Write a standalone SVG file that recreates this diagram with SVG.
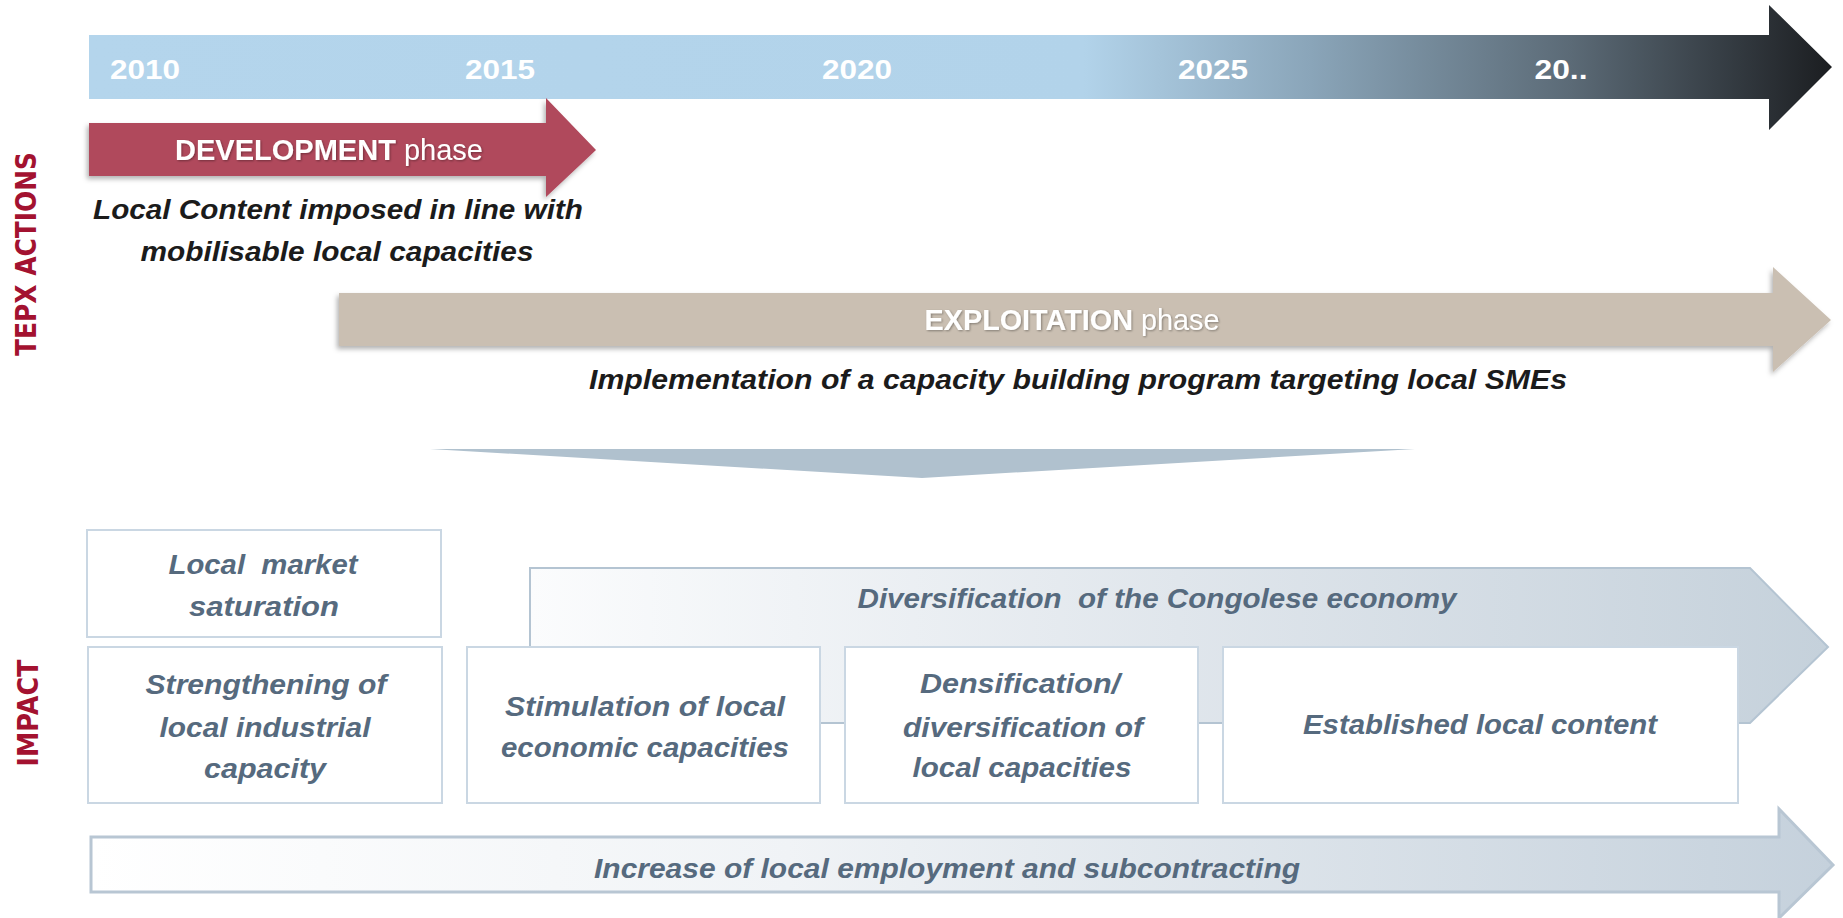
<svg xmlns="http://www.w3.org/2000/svg" width="1843" height="918" viewBox="0 0 1843 918">
<style>
.yr{font-family:"Liberation Sans",Arial,sans-serif;font-weight:bold;font-size:28px;fill:#ffffff;text-anchor:middle}
.ph{font-family:"Liberation Sans",Arial,sans-serif;font-size:29px;fill:#ffffff;text-anchor:middle}
.blk{font-family:"Liberation Sans",Arial,sans-serif;font-weight:bold;font-style:italic;font-size:28px;fill:#1b1b1b;text-anchor:middle}
.sl{font-family:"Liberation Sans",Arial,sans-serif;font-weight:bold;font-style:italic;font-size:28px;fill:#566a7e;text-anchor:middle;white-space:pre}
.side{font-family:"DejaVu Sans",Verdana,sans-serif;font-weight:bold;font-size:28px;fill:#a31230;text-anchor:middle}
.box{fill:#ffffff;stroke:#cad7e3;stroke-width:2}
</style>
<defs>
<linearGradient id="gTime" gradientUnits="userSpaceOnUse" x1="89" y1="0" x2="1834" y2="0">
<stop offset="0" stop-color="#b4d5ec"/>
<stop offset="0.57" stop-color="#b2d3ea"/>
<stop offset="0.70" stop-color="#8aa5b9"/>
<stop offset="0.85" stop-color="#5b6a76"/>
<stop offset="1" stop-color="#1b1d20"/>
</linearGradient>
<linearGradient id="gDiv" gradientUnits="userSpaceOnUse" x1="530" y1="0" x2="1828" y2="0">
<stop offset="0" stop-color="#fbfcfd"/>
<stop offset="0.5" stop-color="#e0e6ec"/>
<stop offset="1" stop-color="#c5d1db"/>
</linearGradient>
<linearGradient id="gInc" gradientUnits="userSpaceOnUse" x1="91" y1="0" x2="1833" y2="0">
<stop offset="0" stop-color="#ffffff"/>
<stop offset="0.4" stop-color="#f0f3f6"/>
<stop offset="1" stop-color="#c5d1dc"/>
</linearGradient>
<filter id="sh" x="-5%" y="-20%" width="110%" height="150%">
<feDropShadow dx="-2" dy="3" stdDeviation="2.5" flood-color="#000000" flood-opacity="0.3"/>
</filter>
<filter id="tsh" x="-5%" y="-20%" width="110%" height="150%">
<feDropShadow dx="1" dy="1" stdDeviation="1" flood-color="#000000" flood-opacity="0.35"/>
</filter>
</defs>

<g id="timeline">
<polygon points="89,35 1769,35 1769,5 1832,67 1769,130 1769,99 89,99" fill="url(#gTime)"/>
<text class="yr" x="145" y="79" textLength="70" lengthAdjust="spacingAndGlyphs">2010</text>
<text class="yr" x="500" y="79" textLength="70" lengthAdjust="spacingAndGlyphs">2015</text>
<text class="yr" x="857" y="79" textLength="70" lengthAdjust="spacingAndGlyphs">2020</text>
<text class="yr" x="1213" y="79" textLength="70" lengthAdjust="spacingAndGlyphs">2025</text>
<text class="yr" x="1561" y="79" textLength="53" lengthAdjust="spacingAndGlyphs">20..</text>
</g>

<g id="label-tepx">
<text class="side" transform="translate(36,254) rotate(-90)" x="0" y="0" textLength="204" lengthAdjust="spacingAndGlyphs">TEPX ACTIONS</text>
</g>
<g id="label-impact">
<text class="side" transform="translate(38,713) rotate(-90)" x="0" y="0" textLength="107" lengthAdjust="spacingAndGlyphs">IMPACT</text>
</g>

<g id="development">
<polygon points="89,123 546,123 546,98 596,150 546,197 546,176 89,176" fill="#b0495c" filter="url(#sh)"/>
<text class="ph" x="329" y="160" textLength="308" lengthAdjust="spacingAndGlyphs" filter="url(#tsh)"><tspan font-weight="bold">DEVELOPMENT</tspan> phase</text>
<text class="blk" x="338" y="219" textLength="490" lengthAdjust="spacingAndGlyphs">Local Content imposed in line with</text>
<text class="blk" x="337" y="261" textLength="393" lengthAdjust="spacingAndGlyphs">mobilisable local capacities</text>
</g>

<g id="exploitation">
<polygon points="339,293 1773,293 1773,267 1831,320 1773,372 1773,346 339,346" fill="#cabfb2" filter="url(#sh)"/>
<text class="ph" x="1072" y="330" textLength="295" lengthAdjust="spacingAndGlyphs" filter="url(#tsh)"><tspan font-weight="bold">EXPLOITATION</tspan> phase</text>
<text class="blk" x="1078" y="389" textLength="978" lengthAdjust="spacingAndGlyphs">Implementation of a capacity building program targeting local SMEs</text>
</g>

<g id="connectors">
<polygon points="430,449 1415,449 922,478" fill="#b0c1ce"/>
</g>

<g id="diversification">
<polygon points="530,568 1750,568 1828,647 1750,723 530,723" fill="url(#gDiv)" stroke="#b4c4d2" stroke-width="2"/>
<text class="sl" x="1157" y="608" textLength="599" lengthAdjust="spacingAndGlyphs" xml:space="preserve">Diversification  of the Congolese economy</text>
</g>

<g id="increase">
<polygon points="91,837 1779,837 1779,809 1833,865 1779,918 1779,892 91,892" fill="url(#gInc)" stroke="#b8c6d3" stroke-width="3"/>
<text class="sl" x="947" y="878" textLength="706" lengthAdjust="spacingAndGlyphs">Increase of local employment and subcontracting</text>
</g>

<g id="saturation">
<rect class="box" x="87" y="530" width="354" height="107"/>
<text class="sl" x="263" y="574" textLength="189" lengthAdjust="spacingAndGlyphs" xml:space="preserve">Local  market</text>
<text class="sl" x="264" y="616" textLength="150" lengthAdjust="spacingAndGlyphs">saturation</text>
</g>

<g id="strengthening">
<rect class="box" x="88" y="647" width="354" height="156"/>
<text class="sl" x="266" y="694" textLength="241" lengthAdjust="spacingAndGlyphs">Strengthening of</text>
<text class="sl" x="265" y="737" textLength="211" lengthAdjust="spacingAndGlyphs">local industrial</text>
<text class="sl" x="265" y="778" textLength="122" lengthAdjust="spacingAndGlyphs">capacity</text>
</g>

<g id="stimulation">
<rect class="box" x="467" y="647" width="353" height="156"/>
<text class="sl" x="645" y="716" textLength="280" lengthAdjust="spacingAndGlyphs">Stimulation of local</text>
<text class="sl" x="645" y="757" textLength="288" lengthAdjust="spacingAndGlyphs">economic capacities</text>
</g>

<g id="densification">
<rect class="box" x="845" y="647" width="353" height="156"/>
<text class="sl" x="1020" y="693" textLength="200" lengthAdjust="spacingAndGlyphs">Densification/</text>
<text class="sl" x="1023" y="737" textLength="240" lengthAdjust="spacingAndGlyphs">diversification of</text>
<text class="sl" x="1022" y="777" textLength="219" lengthAdjust="spacingAndGlyphs">local capacities</text>
</g>

<g id="established">
<rect class="box" x="1223" y="647" width="515" height="156"/>
<text class="sl" x="1480" y="734" textLength="354" lengthAdjust="spacingAndGlyphs">Established local content</text>
</g>
</svg>
